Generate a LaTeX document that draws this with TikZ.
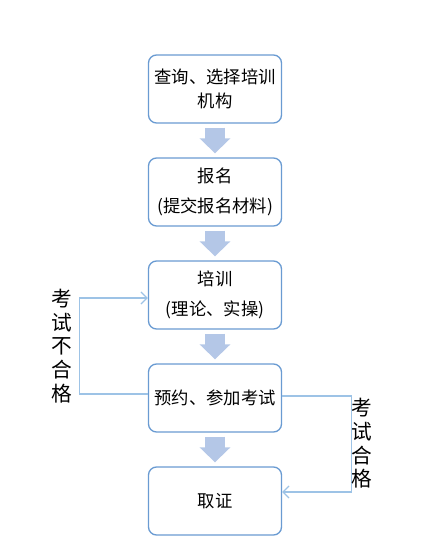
\documentclass[tikz,border=0pt]{standalone}
\usepackage{fontspec}
\setmainfont{Noto Sans CJK SC}
\usetikzlibrary{arrows.meta}

\definecolor{boxline}{RGB}{106,155,210}
\definecolor{fatarrow}{RGB}{180,199,231}
\definecolor{backline}{RGB}{157,195,230}

\tikzset{every picture/.style={line width=0.75pt}}

\begin{document}
\begin{tikzpicture}[x=0.75pt,y=0.75pt,yscale=-1,xscale=1]
\useasboundingbox (0,0) rectangle (434,556);

\tikzset{
  stagebox/.style={draw=boxline, line width=1pt, rounded corners=6pt, fill=white,
    minimum width=99.75pt, minimum height=51pt, align=center, inner sep=2pt,
    font=\fontsize{13pt}{18pt}\selectfont},
  downarrow/.style={draw=fatarrow, line width=15pt, shorten <=3pt, shorten >=3pt,
    -{Triangle[width=22.5pt,length=11.25pt]}},
  backarrow/.style={draw=backline, line width=0.9pt, -{Straight Barb[length=4.5pt,width=9pt]}},
  sidelabel/.style={align=center, inner sep=0pt, font=\fontsize{15.5pt}{17.8pt}\selectfont}
}

%Stages
\node [stagebox] (choose) at (215,89) {查询、选择培训\\机构};
\node [stagebox] (signup) at (215,192) {报名\\[4.5pt](提交报名材料)};
\node [stagebox] (train) at (215,295) {培训\\[4.5pt](理论、实操)};
\node [stagebox] (exam) at (215,398) {预约、参加考试};
\node [stagebox] (cert) at (215,501) {取证};

%Fat arrows
\draw [downarrow] (choose) -- (signup);
\draw [downarrow] (signup) -- (train);
\draw [downarrow] (train) -- (exam);
\draw [downarrow] (exam) -- (cert);

%Fail loop
\draw [backarrow] ([yshift=-3pt]exam.west) -- ++(-68,0) |- ([yshift=2.25pt]train.west);
%Pass line
\draw [backarrow] ([yshift=-1.5pt]exam.east) -- ++(69,0) |- ([yshift=-6.75pt]cert.east);

% Text Node
\node [sidelabel] (faillabel) at (62,346) {考\\试\\不\\合\\格};
% Text Node
\node [sidelabel] (passlabel) at (362,443.5) {考\\试\\合\\格};

\end{tikzpicture}
\end{document}
